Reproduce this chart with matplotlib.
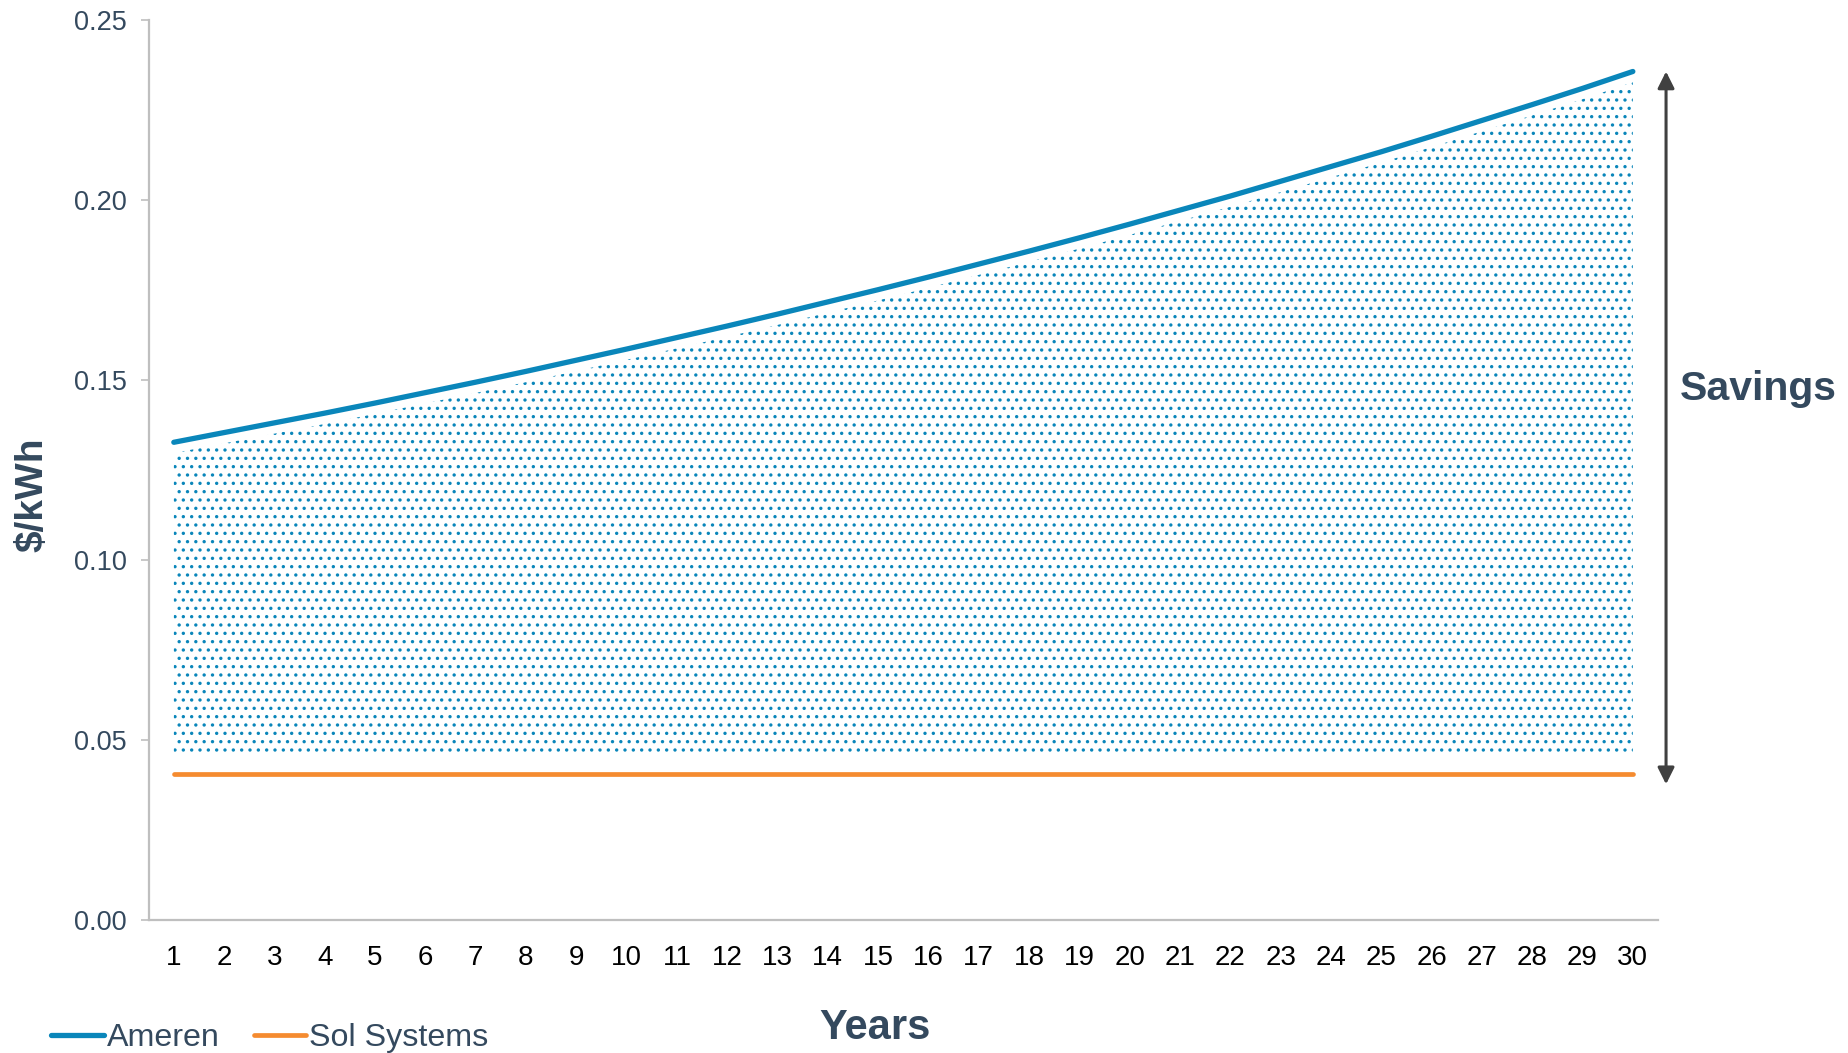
import numpy as np
import matplotlib.pyplot as plt

years = list(range(1, 31))
ameren = [0.1327, 0.1354, 0.1381, 0.1408, 0.1436, 0.1465, 0.1494, 0.1524, 0.1555, 0.1586,
          0.1618, 0.1650, 0.1683, 0.1717, 0.1751, 0.1786, 0.1822, 0.1858, 0.1895, 0.1933,
          0.1972, 0.2011, 0.2052, 0.2093, 0.2134, 0.2177, 0.2221, 0.2265, 0.2310, 0.2357]
sol = [0.0406] * 30
fill_floor = 0.0459
y_ticks = [0.00, 0.05, 0.10, 0.15, 0.20, 0.25]

blue = '#0A86BA'
orange = '#F58B2F'
navy = '#34495E'
grey = '#BFBFBF'

plt.rcParams['font.family'] = ['Liberation Sans', 'DejaVu Sans']
plt.rcParams['hatch.linewidth'] = 1.2

fig = plt.figure(figsize=(18.49, 10.53), dpi=100)
ax = fig.add_axes([0.0804, 0.1263, 0.8163, 0.8547])

ax.fill_between(years, fill_floor, np.array(ameren) - 0.003, facecolor='none',
                edgecolor=blue, hatch='..', linewidth=0, zorder=1)
ax.plot(years, ameren, color=blue, lw=3.8, solid_capstyle='round', label='Ameren', zorder=3)
ax.plot(years, sol, color=orange, lw=3.4, solid_capstyle='round', label='Sol Systems', zorder=3)

ax.set_xlim(0.5, 30.5)
ax.set_ylim(0, 0.25)
ax.set_xticks(years)
ax.set_xticklabels([str(y) for y in years])
ax.set_yticks(y_ticks)
ax.set_yticklabels([f'{v:.2f}' for v in y_ticks])
ax.tick_params(axis='x', length=0, labelsize=20, labelcolor='black', pad=18)
ax.tick_params(axis='y', length=6, width=1.2, color=grey, labelsize=19.5,
               labelcolor=navy, pad=10)

for s in ['top', 'right']:
    ax.spines[s].set_visible(False)
for s in ['left', 'bottom']:
    ax.spines[s].set_color(grey)
    ax.spines[s].set_linewidth(1.6)

# savings arrow
ax.annotate('', xy=(30.66, ameren[-1]), xytext=(30.66, 0.0377),
            arrowprops=dict(arrowstyle='<|-|>', color='#404040', lw=2.2,
                            mutation_scale=25, shrinkA=0, shrinkB=0),
            annotation_clip=False)
ax.text(32.5, 0.1474, 'Savings', fontsize=29.5, fontweight='bold', color=navy,
        ha='center', va='center', clip_on=False)

fig.text(0.0175, 0.53, '$/kWh', rotation=90, fontsize=28, fontweight='bold',
         color=navy, ha='center', va='center')
fig.text(0.473, 0.024, 'Years', fontsize=30, fontweight='bold', color=navy,
         ha='center', va='center')

leg = fig.legend(loc='lower left', bbox_to_anchor=(0.012, -0.028), ncol=2, frameon=False,
                 fontsize=23.2, handlelength=1.63, handletextpad=0.1, columnspacing=1.05,
                 labelcolor=navy)

fig.savefig('out.png', dpi=100)
